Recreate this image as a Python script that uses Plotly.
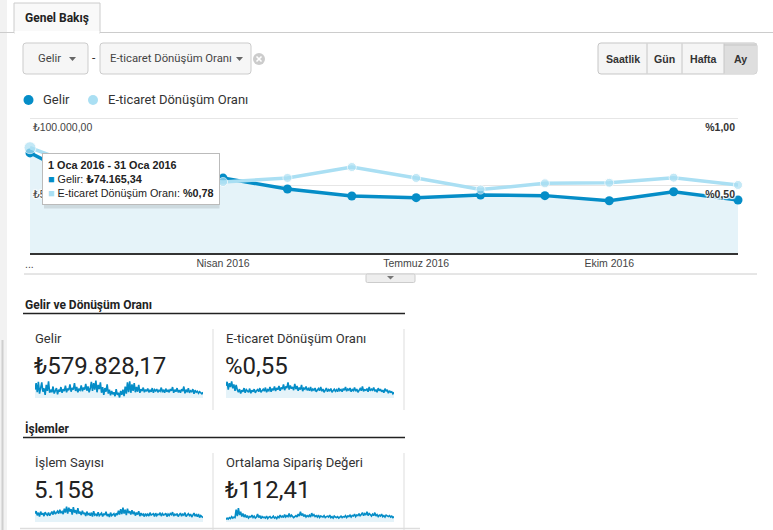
import plotly.graph_objects as go

W, H = 773, 530

# ---------------- data ----------------
months = ["Oca 2016", "Şub 2016", "Mar 2016", "Nis 2016", "May 2016", "Haz 2016",
          "Tem 2016", "Ağu 2016", "Eyl 2016", "Eki 2016", "Kas 2016", "Ara 2016"]
gelir = [74165.34, 50000, 60000, 55500, 47400, 42200, 41000, 43000, 42500, 38700, 45400, 39300]
donusum = [0.78, 0.60, 0.55, 0.526, 0.556, 0.637, 0.556, 0.47, 0.516, 0.52, 0.558, 0.504]

x_tick_idx = [3, 6, 9]
x_tick_text = ["Nisan 2016", "Temmuz 2016", "Ekim 2016"]
x_start_text = "..."
y_left_vals = [50000, 100000]
y_left_text = ["₺50.000,00", "₺100.000,00"]
y_right_vals = [0.5, 1.0]
y_right_text = ["<b>%0,50</b>", "<b>%1,00</b>"]

card_titles = ["Gelir", "E-ticaret Dönüşüm Oranı", "İşlem Sayısı", "Ortalama Sipariş Değeri"]
card_values = ["₺579.828,17", "%0,55", "5.158", "₺112,41"]

spark_gelir = [60,85,50,90,45,70,88,52,65,40,78,55,92,48,60,50,72,45,58,66,42,60,52,70,48,
               62,55,75,50,64,58,80,52,66,60,85,55,70,50,62,58,76,54,68,60,82,56,72,50,64,
               90,55,85,60,95,50,78,62,88,48,70,40,66,52,80,45,60,38,55,42,50,35,62,40,48,
               30,55,40,60,35,72,45,88,50,92,48,80,55,85,50,70,52,78,48,62,55,68,50,60,54,
               64,50,58,52,66,48,60,55,62,50,58,54,68,50,60,48,64,52,58,50,62,56,70,48,60,
               52,66,50,58,48,62,54,72,46,60,50,66,48,56,52,62,44,58,50,54,46,52,48,44,50]
spark_donusum = [75,90,60,85,70,92,65,80,55,78,60,50,62,45,58,52,66,48,60,55,50,64,46,58,52,
                 62,48,56,60,52,66,50,58,62,54,68,50,60,56,70,52,64,58,72,55,66,60,74,56,68,
                 62,80,58,72,66,88,60,76,64,70,58,82,62,74,56,68,60,78,54,66,62,72,58,64,56,
                 70,54,62,58,66,52,60,64,56,70,54,62,50,58,66,52,60,56,64,50,58,62,54,60,52,
                 66,56,60,52,64,58,70,54,62,58,66,52,60,56,68,54,62,50,58,64,56,72,54,60,58,
                 64,52,70,56,62,58,68,54,60,50,66,56,62,52,58,48,64,54,60,46,56,50,52,44,50]
spark_islem = [62,72,55,66,50,70,58,64,52,68,60,56,66,54,62,70,58,74,60,66,72,62,78,64,70,
               60,82,66,90,62,86,70,80,58,88,66,76,60,84,62,70,56,74,60,66,52,70,58,62,54,
               66,50,72,56,60,52,68,54,58,64,50,62,56,70,52,60,48,66,54,58,62,50,64,56,74,
               58,80,60,86,62,78,56,82,64,72,58,76,60,70,54,66,58,72,52,64,56,60,50,62,54,
               60,52,66,56,58,62,50,64,54,60,58,66,52,62,56,58,64,50,60,54,62,58,68,52,60,
               56,62,50,58,64,52,60,56,66,50,58,62,54,60,48,56,64,52,58,50,60,46,54,50,46]
spark_siparis = [38,44,40,46,42,50,44,48,46,78,52,84,56,70,50,62,48,58,46,54,44,50,48,56,46,
                 52,44,48,60,46,54,42,50,46,48,44,52,42,48,50,44,46,52,44,48,42,50,46,56,48,
                 52,46,58,48,54,50,62,48,56,52,46,50,54,48,60,52,70,54,62,50,58,48,54,50,56,
                 48,64,52,58,50,54,48,56,46,52,50,48,54,46,50,52,48,56,46,50,44,52,48,46,50,
                 44,48,52,46,50,48,54,46,52,50,56,48,54,52,60,50,56,54,62,52,58,66,54,62,56,
                 70,54,62,58,52,60,54,66,52,58,50,56,52,60,50,54,48,56,52,50,54,48,52,46,50]
sparks = [spark_gelir, spark_donusum, spark_islem, spark_siparis]

# ---------------- helpers ----------------
DARK = "#058dc7"
LIGHT = "#aadff3"
AREA = "#e5f3f9"
UI_FONT = "Roboto, 'Noto Sans', sans-serif"
CH_FONT = "Arial, 'Liberation Sans', 'DejaVu Sans', sans-serif"
HALO = "1px 1px 1px #fff, -1px -1px 1px #fff, 1px -1px 1px #fff, -1px 1px 1px #fff"


def fx(x):
    return x / W


def fy(y):
    return 1 - y / H


def P(x, y):
    return f"{fx(x):.5f},{fy(y):.5f}"


shapes = []
annotations = []


def rect(x0, y0, x1, y1, fill=None, line=None, lw=1):
    shapes.append(dict(type="rect", xref="paper", yref="paper",
                       x0=fx(x0), x1=fx(x1), y0=fy(y1), y1=fy(y0),
                       fillcolor=fill or "rgba(0,0,0,0)",
                       line=dict(color=line or "rgba(0,0,0,0)", width=lw if line else 0),
                       layer="above"))


def rrect(x0, y0, x1, y1, r=2, fill="#f5f5f5", line="#c8c8c8", lw=1):
    path = (f"M{P(x0+r,y0)} L{P(x1-r,y0)} Q{P(x1,y0)} {P(x1,y0+r)} L{P(x1,y1-r)} "
            f"Q{P(x1,y1)} {P(x1-r,y1)} L{P(x0+r,y1)} Q{P(x0,y1)} {P(x0,y1-r)} "
            f"L{P(x0,y0+r)} Q{P(x0,y0)} {P(x0+r,y0)} Z")
    shapes.append(dict(type="path", xref="paper", yref="paper", path=path,
                       fillcolor=fill, line=dict(color=line, width=lw), layer="above"))


def hline(x0, x1, y, color="#cccccc", w=1):
    shapes.append(dict(type="line", xref="paper", yref="paper",
                       x0=fx(x0), x1=fx(x1), y0=fy(y), y1=fy(y),
                       line=dict(color=color, width=w), layer="above"))


def vline(x, y0, y1, color="#dddddd", w=1):
    shapes.append(dict(type="line", xref="paper", yref="paper",
                       x0=fx(x), x1=fx(x), y0=fy(y0), y1=fy(y1),
                       line=dict(color=color, width=w), layer="above"))


def tri(cx, cy, w=7, h=4, color="#555555"):
    path = f"M{P(cx-w/2,cy-h/2)} L{P(cx+w/2,cy-h/2)} L{P(cx,cy+h/2)} Z"
    shapes.append(dict(type="path", xref="paper", yref="paper", path=path,
                       fillcolor=color, line=dict(width=0), layer="above"))


def circle(cx, cy, r, color):
    shapes.append(dict(type="circle", xref="paper", yref="paper",
                       xsizemode="pixel", ysizemode="pixel",
                       xanchor=fx(cx), yanchor=fy(cy),
                       x0=-r, x1=r, y0=-r, y1=r,
                       fillcolor=color, line=dict(width=0), layer="above"))


def text(t, x, y, size=12, color="#333333", family=UI_FONT, xanchor="left", **kw):
    annotations.append(dict(text=t, x=fx(x), y=fy(y), xref="paper", yref="paper",
                            xanchor=xanchor, yanchor="middle", showarrow=False,
                            font=dict(size=size, color=color, family=family), **kw))


# ---------------- page chrome ----------------
rect(0, 0, 7, 530, fill="#f2f2f2")
vline(2.5, 340, 530, color="#cfcfcf", w=2)

# tab
hline(0, 14, 32.5, "#cccccc")
hline(100, 773, 32.5, "#cccccc")
rect(14, 3, 100, 33, fill="#f9f9f9", line="#cccccc")
rect(14.6, 31, 99.4, 34, fill="#ffffff")
text("<b>Genel Bakış</b>", 23, 18, size=12, color="#222222")

# dropdowns
rrect(23, 43, 88, 74, r=3, fill="#f6f6f6", line="#cccccc")
text("Gelir", 35.5, 59, size=11.3, color="#444444")
tri(72.5, 59, 7, 4, "#666666")
text("-", 94, 58, size=12, color="#333333", xanchor="center")
rrect(100, 43, 251, 74, r=3, fill="#f6f6f6", line="#cccccc")
text("E-ticaret Dönüşüm Oranı", 108, 59, size=11.3, color="#444444")
tri(239.5, 59, 7, 4, "#666666")
circle(259, 59, 6, "#cccccc")
shapes.append(dict(type="line", xref="paper", yref="paper", x0=fx(256.5), x1=fx(261.5),
                   y0=fy(56.5), y1=fy(61.5), line=dict(color="white", width=1.6), layer="above"))
shapes.append(dict(type="line", xref="paper", yref="paper", x0=fx(256.5), x1=fx(261.5),
                   y0=fy(61.5), y1=fy(56.5), line=dict(color="white", width=1.6), layer="above"))

# period buttons
rrect(598, 43, 757, 74, r=3, fill="#f5f5f5", line="#c6c6c6")
rect(724, 43.5, 756.5, 73.5, fill="#dedede")
rect(724, 43.5, 756.5, 46, fill="#d2d2d2")
for xv in (647, 682, 724):
    vline(xv, 43.5, 73.5, color="#c6c6c6")
for lab, cx in (("Saatlik", 622.5), ("Gün", 664.5), ("Hafta", 703), ("Ay", 740.5)):
    text(f"<b>{lab}</b>", cx, 59, size=10.6, color="#333333", family=CH_FONT, xanchor="center")

# legend
circle(28.5, 100, 5, DARK)
text("Gelir", 41, 100, size=13, color="#333333")
circle(93, 100, 5, LIGHT)
text("E-ticaret Dönüşüm Oranı", 106, 100, size=13, color="#333333")

# under-chart separator and tab
hline(24, 757, 274, "#cccccc")
rrect(366, 274, 415, 282.5, r=1.5, fill="#eeeeee", line="#cccccc")
tri(390.5, 277.8, 7, 3.5, "#777777")

# tooltip shadow
rect(44, 155, 219.5, 208.5, fill="rgba(0,0,0,0.10)")

# sections
text("<b>Gelir ve Dönüşüm Oranı</b>", 23, 304.5, size=12, color="#222222")
hline(23, 405, 313.5, "#222222", 1.3)
text("<b>İşlemler</b>", 23, 428, size=12, color="#222222")
hline(23, 405, 437.5, "#222222", 1.3)
for yy0, yy1 in ((329, 410), (453, 530)):
    vline(213, yy0, yy1, "#dddddd")
    vline(404, yy0, yy1, "#dddddd")
hline(20, 420, 528.5, "#dddddd", 1.5)

card_pos = [(33, 338, 366), (224, 338, 366), (33, 462, 490), (224, 462, 490)]
for (cx, ty, vy), t, v in zip(card_pos, card_titles, card_values):
    text(t, cx, ty, size=13, color="#333333")
    text(v, cx - 1, vy, size=24, color="#222222")

# x-axis start label, placed with the x scale
annotations.append(dict(text=x_start_text, x=0, xref="x", y=fy(264), yref="paper",
                        xanchor="center", yanchor="middle", showarrow=False,
                        font=dict(size=10.5, color="#444444", family=CH_FONT)))

# tooltip
annotations.append(dict(
    text=("<b>1 Oca 2016 - 31 Oca 2016</b><br>"
          f"<span style='color:{DARK}'>■</span> Gelir: <b>₺74.165,34</b><br>"
          f"<span style='color:{LIGHT}'>■</span> E-ticaret Dönüşüm Oranı: <b>%0,78</b>"),
    x=fx(42), y=fy(153), xref="paper", yref="paper", xanchor="left", yanchor="top",
    align="left", showarrow=False, bgcolor="white", bordercolor="#bbbbbb", borderwidth=1,
    borderpad=5, font=dict(size=10.8, color="#222222", family=CH_FONT)))

# ---------------- figure ----------------
fig = go.Figure()
xs = list(range(len(months)))

fig.add_trace(go.Scatter(x=xs, y=gelir, name="Gelir", mode="lines+markers",
                         line=dict(color=DARK, width=3.5), marker=dict(size=9, color=DARK),
                         fill="tozeroy", fillcolor=AREA, cliponaxis=False, hoverinfo="skip",
                         xaxis="x", yaxis="y"))
fig.add_trace(go.Scatter(x=xs, y=donusum, name="E-ticaret Dönüşüm Oranı", mode="lines+markers",
                         line=dict(color=LIGHT, width=3.5),
                         marker=dict(size=[12] + [9] * (len(xs) - 1), color=LIGHT),
                         cliponaxis=False, hoverinfo="skip", xaxis="x", yaxis="y2"))

spark_dom = [((35, 203), (380, 398)), ((226, 394), (380, 398)),
             ((35, 203), (505, 522)), ((226, 394), (505, 522))]
for i, (vals, (xd, yd)) in enumerate(zip(sparks, spark_dom)):
    n = i + 3
    fig.add_trace(go.Scatter(x=list(range(len(vals))), y=vals, mode="lines",
                             line=dict(color=DARK, width=1.6), fill="tozeroy", fillcolor=AREA,
                             hoverinfo="skip", xaxis=f"x{n}", yaxis=f"y{n}"))
    fig.layout[f"xaxis{n}"] = dict(domain=[fx(xd[0]), fx(xd[1])], visible=False,
                                   range=[0, len(vals) - 1], anchor=f"y{n}")
    fig.layout[f"yaxis{n}"] = dict(domain=[fy(yd[1]), fy(yd[0])], visible=False,
                                   range=[28, 97], anchor=f"x{n}")

TOP = 1.05
DOM = [fy(253), fy(253 - 135 * TOP)]
fig.update_layout(
    width=W, height=H, margin=dict(l=0, r=0, t=0, b=0),
    paper_bgcolor="white", plot_bgcolor="rgba(0,0,0,0)", showlegend=False,
    xaxis=dict(domain=[fx(30), fx(738)], range=[0, len(months) - 1], showgrid=False,
               zeroline=False, showline=True, linecolor="#333333", linewidth=1.5,
               tickmode="array", tickvals=x_tick_idx, ticktext=x_tick_text, ticks="",
               tickfont=dict(size=10.5, color="#444444", family=CH_FONT), anchor="y"),
    yaxis=dict(domain=DOM, range=[0, 100000 * TOP], showgrid=True,
               gridcolor="#e6e6e6", gridwidth=1, zeroline=False, showline=False,
               tickmode="array", tickvals=y_left_vals, ticktext=y_left_text, ticks="",
               ticklabelposition="inside", ticklabelshift=9,
               tickfont=dict(size=10.5, color="#444444", family=CH_FONT, shadow=HALO), anchor="x"),
    yaxis2=dict(domain=DOM, range=[0, TOP], overlaying="y",
                side="right", showgrid=False, zeroline=False, showline=False,
                tickmode="array", tickvals=y_right_vals, ticktext=y_right_text, ticks="",
                ticklabelposition="inside", ticklabelshift=9,
                tickfont=dict(size=10.5, color="#333333", family=CH_FONT, shadow=HALO), anchor="x"),
    shapes=shapes, annotations=annotations,
)

fig.write_html("out.html", config={"displayModeBar": False},
               post_script="document.body.style.margin='0';document.body.style.overflow='hidden';")
